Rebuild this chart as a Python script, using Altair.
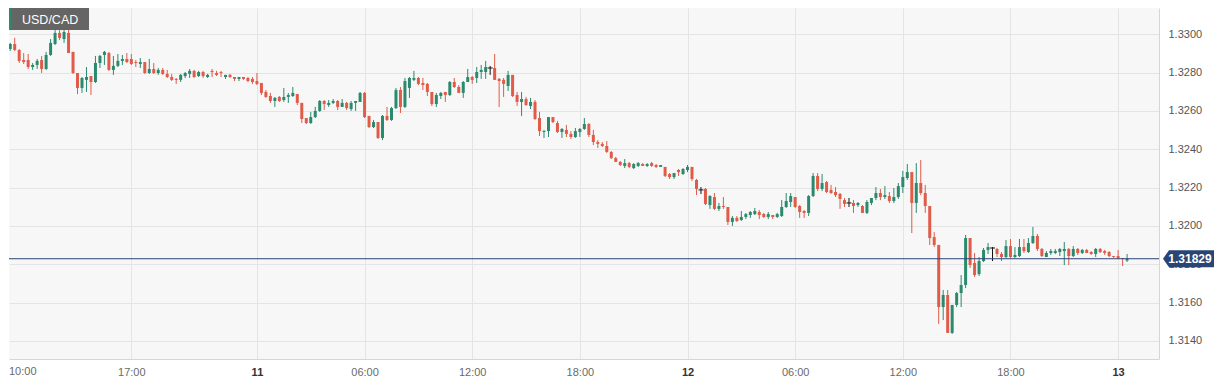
import altair as alt
import pandas as pd

SYMBOL = "USD/CAD"
LAST_PRICE = 1.31829
FIRST_HOUR = -14.0      # first candle: 10:00 on the 10th (hours relative to the 11th, 00:00)
CANDLE_HOURS = 0.25     # 15-minute candles
X_TICK_HOURS = [-7, 0, 6, 12, 18, 24, 30, 36, 42, 48]
X_TICK_LABELS = ["17:00", "11", "06:00", "12:00", "18:00", "12", "06:00", "12:00", "18:00", "13"]
FIRST_LABEL = "10:00"
Y_TICKS = [1.3140, 1.3160, 1.3180, 1.3200, 1.3220, 1.3240, 1.3260, 1.3280, 1.3300]

OPEN = [
    1.32866, 1.32923, 1.32949, 1.32918, 1.32866, 1.32866, 1.32829, 1.32840, 1.32866, 1.32819,
    1.32892, 1.32949, 1.33007, 1.32975, 1.33007, 1.32908, 1.32798, 1.32720, 1.32762, 1.32782,
    1.32751, 1.32850, 1.32892, 1.32902, 1.32814, 1.32835, 1.32861, 1.32871, 1.32871, 1.32855,
    1.32845, 1.32855, 1.32798, 1.32819, 1.32798, 1.32814, 1.32793, 1.32777, 1.32767, 1.32762,
    1.32782, 1.32793, 1.32809, 1.32782, 1.32803, 1.32777, 1.32809, 1.32798, 1.32803, 1.32777,
    1.32788, 1.32777, 1.32767, 1.32777, 1.32772, 1.32767, 1.32756, 1.32746, 1.32699, 1.32678,
    1.32652, 1.32673, 1.32657, 1.32673, 1.32678, 1.32688, 1.32642, 1.32563, 1.32537, 1.32568,
    1.32600, 1.32652, 1.32631, 1.32642, 1.32652, 1.32621, 1.32642, 1.32610, 1.32642, 1.32647,
    1.32694, 1.32574, 1.32516, 1.32542, 1.32459, 1.32574, 1.32553, 1.32615, 1.32709, 1.32621,
    1.32720, 1.32762, 1.32772, 1.32746, 1.32741, 1.32699, 1.32636, 1.32678, 1.32699, 1.32683,
    1.32751, 1.32725, 1.32694, 1.32751, 1.32777, 1.32772, 1.32803, 1.32803, 1.32824, 1.32824,
    1.32767, 1.32762, 1.32730, 1.32788, 1.32683, 1.32647, 1.32662, 1.32626, 1.32647, 1.32563,
    1.32490, 1.32495, 1.32568, 1.32537, 1.32490, 1.32501, 1.32480, 1.32464, 1.32490, 1.32506,
    1.32532, 1.32475, 1.32438, 1.32428, 1.32417, 1.32386, 1.32354, 1.32334, 1.32313, 1.32328,
    1.32302, 1.32313, 1.32323, 1.32313, 1.32328, 1.32318, 1.32308, 1.32308, 1.32271, 1.32255,
    1.32292, 1.32271, 1.32292, 1.32308, 1.32240, 1.32188, 1.32193, 1.32109, 1.32151, 1.32089,
    1.32104, 1.32099, 1.32021, 1.32042, 1.32031, 1.32047, 1.32057, 1.32062, 1.32073, 1.32062,
    1.32047, 1.32057, 1.32047, 1.32052, 1.32099, 1.32125, 1.32151, 1.32104, 1.32078, 1.32068,
    1.32156, 1.32261, 1.32193, 1.32229, 1.32188, 1.32177, 1.32167, 1.32135, 1.32120, 1.32120,
    1.32109, 1.32104, 1.32068, 1.32120, 1.32146, 1.32172, 1.32151, 1.32156, 1.32130, 1.32151,
    1.32203, 1.32250, 1.32281, 1.32120, 1.32224, 1.32172, 1.32104, 1.31942, 1.31901, 1.31577,
    1.31640, 1.31442, 1.31588, 1.31650, 1.31692, 1.31937, 1.31807, 1.31749, 1.31817, 1.31875,
    1.31885, 1.31880, 1.31854, 1.31838, 1.31895, 1.31838, 1.31843, 1.31890, 1.31864, 1.31911,
    1.31948, 1.31880, 1.31838, 1.31859, 1.31859, 1.31864, 1.31869, 1.31880, 1.31843, 1.31880,
    1.31859, 1.31875, 1.31864, 1.31854, 1.31880, 1.31869, 1.31864, 1.31843, 1.31843, 1.31833,
    1.31820,
]
HIGH = [
    1.32934, 1.32955, 1.32981, 1.32923, 1.32902, 1.32897, 1.32850, 1.32871, 1.32887, 1.32908,
    1.32975, 1.33022, 1.33022, 1.33033, 1.33038, 1.32908, 1.32798, 1.32777, 1.32829, 1.32782,
    1.32887, 1.32892, 1.32913, 1.32908, 1.32887, 1.32897, 1.32892, 1.32902, 1.32897, 1.32866,
    1.32876, 1.32855, 1.32871, 1.32850, 1.32824, 1.32824, 1.32814, 1.32793, 1.32772, 1.32793,
    1.32803, 1.32819, 1.32814, 1.32809, 1.32809, 1.32793, 1.32819, 1.32809, 1.32809, 1.32788,
    1.32793, 1.32777, 1.32777, 1.32777, 1.32777, 1.32777, 1.32798, 1.32746, 1.32709, 1.32694,
    1.32673, 1.32678, 1.32720, 1.32694, 1.32725, 1.32688, 1.32642, 1.32563, 1.32595, 1.32621,
    1.32657, 1.32657, 1.32657, 1.32662, 1.32657, 1.32662, 1.32647, 1.32652, 1.32652, 1.32699,
    1.32699, 1.32574, 1.32553, 1.32542, 1.32579, 1.32621, 1.32621, 1.32720, 1.32725, 1.32772,
    1.32777, 1.32809, 1.32777, 1.32772, 1.32746, 1.32699, 1.32694, 1.32699, 1.32699, 1.32756,
    1.32772, 1.32735, 1.32756, 1.32819, 1.32782, 1.32829, 1.32840, 1.32861, 1.32835, 1.32897,
    1.32772, 1.32772, 1.32809, 1.32788, 1.32699, 1.32699, 1.32673, 1.32668, 1.32657, 1.32595,
    1.32501, 1.32568, 1.32568, 1.32548, 1.32511, 1.32527, 1.32495, 1.32511, 1.32511, 1.32563,
    1.32537, 1.32501, 1.32448, 1.32438, 1.32443, 1.32391, 1.32360, 1.32339, 1.32349, 1.32334,
    1.32328, 1.32334, 1.32328, 1.32328, 1.32334, 1.32323, 1.32318, 1.32308, 1.32276, 1.32276,
    1.32297, 1.32302, 1.32318, 1.32308, 1.32245, 1.32203, 1.32198, 1.32161, 1.32172, 1.32120,
    1.32151, 1.32099, 1.32052, 1.32052, 1.32078, 1.32068, 1.32078, 1.32094, 1.32083, 1.32068,
    1.32073, 1.32057, 1.32068, 1.32135, 1.32172, 1.32172, 1.32151, 1.32109, 1.32083, 1.32161,
    1.32276, 1.32276, 1.32271, 1.32235, 1.32214, 1.32203, 1.32172, 1.32146, 1.32146, 1.32135,
    1.32125, 1.32109, 1.32135, 1.32146, 1.32203, 1.32193, 1.32208, 1.32177, 1.32198, 1.32224,
    1.32287, 1.32323, 1.32281, 1.32328, 1.32344, 1.32214, 1.32104, 1.31968, 1.31901, 1.31666,
    1.31666, 1.31588, 1.31656, 1.31744, 1.31953, 1.31937, 1.31859, 1.31838, 1.31885, 1.31911,
    1.31890, 1.31885, 1.31864, 1.31927, 1.31932, 1.31890, 1.31932, 1.31932, 1.31937, 1.31995,
    1.31958, 1.31885, 1.31869, 1.31880, 1.31880, 1.31885, 1.31916, 1.31885, 1.31895, 1.31885,
    1.31880, 1.31880, 1.31869, 1.31885, 1.31885, 1.31875, 1.31869, 1.31843, 1.31875, 1.31833,
    1.31854,
]
LOW = [
    1.32855, 1.32913, 1.32913, 1.32850, 1.32845, 1.32819, 1.32814, 1.32819, 1.32798, 1.32814,
    1.32887, 1.32944, 1.32970, 1.32955, 1.32902, 1.32793, 1.32688, 1.32694, 1.32699, 1.32683,
    1.32746, 1.32824, 1.32840, 1.32809, 1.32788, 1.32829, 1.32840, 1.32850, 1.32840, 1.32829,
    1.32824, 1.32793, 1.32793, 1.32793, 1.32788, 1.32788, 1.32772, 1.32756, 1.32741, 1.32751,
    1.32772, 1.32772, 1.32772, 1.32777, 1.32772, 1.32772, 1.32777, 1.32782, 1.32777, 1.32767,
    1.32772, 1.32756, 1.32756, 1.32762, 1.32751, 1.32741, 1.32735, 1.32683, 1.32668, 1.32642,
    1.32621, 1.32647, 1.32647, 1.32642, 1.32673, 1.32631, 1.32537, 1.32532, 1.32532, 1.32563,
    1.32595, 1.32605, 1.32621, 1.32636, 1.32605, 1.32621, 1.32605, 1.32600, 1.32600, 1.32647,
    1.32563, 1.32511, 1.32511, 1.32454, 1.32448, 1.32548, 1.32548, 1.32610, 1.32589, 1.32615,
    1.32668, 1.32756, 1.32735, 1.32709, 1.32678, 1.32626, 1.32621, 1.32662, 1.32647, 1.32678,
    1.32720, 1.32694, 1.32668, 1.32751, 1.32741, 1.32746, 1.32767, 1.32767, 1.32788, 1.32762,
    1.32621, 1.32673, 1.32704, 1.32673, 1.32626, 1.32574, 1.32626, 1.32610, 1.32553, 1.32469,
    1.32459, 1.32464, 1.32537, 1.32485, 1.32459, 1.32464, 1.32454, 1.32459, 1.32464, 1.32501,
    1.32464, 1.32422, 1.32407, 1.32412, 1.32381, 1.32349, 1.32334, 1.32313, 1.32302, 1.32302,
    1.32297, 1.32308, 1.32313, 1.32308, 1.32308, 1.32302, 1.32308, 1.32255, 1.32245, 1.32245,
    1.32261, 1.32266, 1.32281, 1.32235, 1.32161, 1.32167, 1.32109, 1.32089, 1.32083, 1.32078,
    1.32089, 1.32005, 1.32000, 1.32021, 1.32026, 1.32036, 1.32042, 1.32057, 1.32036, 1.32042,
    1.32036, 1.32036, 1.32042, 1.32047, 1.32094, 1.32099, 1.32094, 1.32042, 1.32042, 1.32052,
    1.32151, 1.32182, 1.32182, 1.32172, 1.32167, 1.32151, 1.32089, 1.32099, 1.32099, 1.32068,
    1.32099, 1.32068, 1.32062, 1.32109, 1.32135, 1.32135, 1.32141, 1.32120, 1.32120, 1.32141,
    1.32172, 1.32240, 1.31963, 1.32068, 1.32161, 1.32068, 1.31901, 1.31890, 1.31489, 1.31509,
    1.31442, 1.31437, 1.31577, 1.31577, 1.31676, 1.31781, 1.31734, 1.31739, 1.31812, 1.31854,
    1.31817, 1.31838, 1.31817, 1.31833, 1.31833, 1.31833, 1.31838, 1.31859, 1.31859, 1.31906,
    1.31869, 1.31838, 1.31838, 1.31849, 1.31854, 1.31843, 1.31796, 1.31796, 1.31838, 1.31849,
    1.31854, 1.31859, 1.31849, 1.31838, 1.31859, 1.31849, 1.31838, 1.31833, 1.31828, 1.31791,
    1.31812,
]
CLOSE = [
    1.32923, 1.32949, 1.32918, 1.32861, 1.32855, 1.32829, 1.32840, 1.32861, 1.32819, 1.32892,
    1.32955, 1.33007, 1.32981, 1.33012, 1.32902, 1.32798, 1.32720, 1.32772, 1.32777, 1.32751,
    1.32850, 1.32887, 1.32908, 1.32814, 1.32835, 1.32861, 1.32871, 1.32855, 1.32845, 1.32850,
    1.32855, 1.32798, 1.32819, 1.32798, 1.32814, 1.32793, 1.32777, 1.32762, 1.32762, 1.32788,
    1.32798, 1.32809, 1.32777, 1.32803, 1.32782, 1.32788, 1.32803, 1.32788, 1.32798, 1.32788,
    1.32777, 1.32767, 1.32777, 1.32767, 1.32756, 1.32751, 1.32741, 1.32694, 1.32673, 1.32652,
    1.32668, 1.32652, 1.32673, 1.32683, 1.32694, 1.32642, 1.32558, 1.32537, 1.32568, 1.32600,
    1.32652, 1.32636, 1.32642, 1.32652, 1.32621, 1.32642, 1.32615, 1.32642, 1.32652, 1.32694,
    1.32568, 1.32516, 1.32542, 1.32459, 1.32574, 1.32553, 1.32615, 1.32709, 1.32621, 1.32756,
    1.32772, 1.32772, 1.32741, 1.32735, 1.32699, 1.32636, 1.32683, 1.32694, 1.32683, 1.32751,
    1.32725, 1.32694, 1.32751, 1.32777, 1.32762, 1.32803, 1.32814, 1.32829, 1.32824, 1.32762,
    1.32756, 1.32741, 1.32788, 1.32678, 1.32647, 1.32662, 1.32631, 1.32647, 1.32558, 1.32495,
    1.32495, 1.32568, 1.32542, 1.32490, 1.32506, 1.32480, 1.32464, 1.32495, 1.32506, 1.32532,
    1.32475, 1.32438, 1.32428, 1.32417, 1.32386, 1.32354, 1.32334, 1.32318, 1.32328, 1.32308,
    1.32323, 1.32328, 1.32313, 1.32323, 1.32313, 1.32308, 1.32318, 1.32261, 1.32255, 1.32276,
    1.32281, 1.32297, 1.32308, 1.32245, 1.32193, 1.32188, 1.32115, 1.32156, 1.32089, 1.32104,
    1.32099, 1.32021, 1.32042, 1.32026, 1.32047, 1.32062, 1.32073, 1.32078, 1.32057, 1.32047,
    1.32062, 1.32047, 1.32062, 1.32099, 1.32130, 1.32156, 1.32099, 1.32073, 1.32068, 1.32156,
    1.32261, 1.32193, 1.32224, 1.32177, 1.32172, 1.32161, 1.32141, 1.32115, 1.32120, 1.32104,
    1.32120, 1.32068, 1.32125, 1.32146, 1.32172, 1.32151, 1.32161, 1.32130, 1.32151, 1.32208,
    1.32255, 1.32281, 1.32120, 1.32224, 1.32172, 1.32104, 1.31937, 1.31901, 1.31577, 1.31640,
    1.31442, 1.31588, 1.31650, 1.31692, 1.31937, 1.31796, 1.31744, 1.31817, 1.31875, 1.31890,
    1.31885, 1.31854, 1.31838, 1.31895, 1.31838, 1.31849, 1.31890, 1.31869, 1.31911, 1.31948,
    1.31880, 1.31843, 1.31859, 1.31869, 1.31869, 1.31880, 1.31880, 1.31843, 1.31880, 1.31859,
    1.31875, 1.31859, 1.31854, 1.31880, 1.31864, 1.31859, 1.31843, 1.31838, 1.31833, 1.31828,
    1.31829,
]

# ---------------------------------------------------------------- table
n = len(OPEN)
df = pd.DataFrame({
    "hour": [FIRST_HOUR + CANDLE_HOURS * i for i in range(n)],
    "open": OPEN, "high": HIGH, "low": LOW, "close": CLOSE,
})
df["dir"] = ["up" if c > o else ("down" if c < o else "doji") for o, c in zip(OPEN, CLOSE)]

W, H = 1150, 351
UP, DOWN, DOJI = "#2b8a6e", "#e05b48", "#111111"
NAVY = "#2a4573"
GRID = "#e4e4e4"
BORDER = "#cfd6e6"
FONT = "Liberation Sans"

x_scale = alt.Scale(domain=[-13.54, 50.0], nice=False, zero=False)
y_scale = alt.Scale(domain=[1.31306, 1.33137], nice=False, zero=False)
color_scale = alt.Scale(domain=["up", "down", "doji"], range=[UP, DOWN, DOJI])

label_expr = " : ".join(
    f"datum.value == {h} ? '{l}'" for h, l in zip(X_TICK_HOURS, X_TICK_LABELS)
) + " : ''"

x_axis = alt.Axis(
    values=X_TICK_HOURS, labelExpr=label_expr, title=None, grid=True, gridColor=GRID,
    ticks=False, domain=True, domainColor=BORDER, labelFontSize=11, labelPadding=7,
    labelFont=FONT, labelOverlap=False, zindex=0,
    labelColor={"condition": {"test": "datum.value % 24 == 0", "value": "#333333"}, "value": "#6a6a6a"},
    labelFontWeight={"condition": {"test": "datum.value % 24 == 0", "value": "bold"}, "value": "normal"},
)
y_axis = alt.Axis(
    orient="right", values=Y_TICKS, format=".4f", title=None, grid=True, gridColor=GRID,
    ticks=False, domain=True, domainColor=BORDER, labelColor="#555555", labelFontSize=11,
    labelPadding=9, labelFont=FONT, labelOverlap=False, zindex=0,
)

color = alt.Color("dir:N", scale=color_scale, legend=None)
base = alt.Chart(df)

wicks = base.mark_rule(strokeWidth=1, clip=True).encode(
    x=alt.X("hour:Q", scale=x_scale, axis=x_axis),
    y=alt.Y("low:Q", scale=y_scale, axis=y_axis),
    y2="high:Q",
    color=color,
)
bodies = base.transform_filter("datum.dir != 'doji'").mark_bar(size=3, clip=True).encode(
    x=alt.X("hour:Q", scale=x_scale, title=None),
    y=alt.Y("open:Q", scale=y_scale, title=None),
    y2="close:Q",
    color=color,
)
doji = base.transform_filter("datum.dir == 'doji'").mark_tick(
    orient="horizontal", size=5, thickness=1, opacity=1, clip=True
).encode(
    x=alt.X("hour:Q", scale=x_scale, title=None),
    y=alt.Y("open:Q", scale=y_scale, title=None),
    color=color,
)

price_df = pd.DataFrame({"price": [LAST_PRICE], "label": [f"{LAST_PRICE:.5f}"]})
price_line = alt.Chart(price_df).mark_rule(color=NAVY, strokeWidth=1).encode(
    y=alt.Y("price:Q", scale=y_scale, title=None)
)
BADGE = "M -1 0 L -0.765 -0.333 L 1 -0.333 L 1 0.333 L -0.765 0.333 Z"
badge = alt.Chart(price_df).mark_point(
    shape=BADGE, size=2601, filled=True, color=NAVY, opacity=1, strokeWidth=0
).encode(x=alt.value(1179.5), y=alt.Y("price:Q", scale=y_scale, title=None))
badge_text = alt.Chart(price_df).mark_text(
    color="white", fontWeight="bold", fontSize=12, font=FONT, align="center", baseline="middle"
).encode(x=alt.value(1181), y=alt.Y("price:Q", scale=y_scale, title=None), text="label:N")

head_df = pd.DataFrame({"label": [SYMBOL]})
head_box = alt.Chart(head_df).mark_rect(color="#656565").encode(
    x=alt.value(0), x2=alt.value(80), y=alt.value(0), y2=alt.value(22)
)
head_stripe = alt.Chart(head_df).mark_rect(color=UP).encode(
    x=alt.value(0), x2=alt.value(2.5), y=alt.value(0), y2=alt.value(22)
)
head_text = alt.Chart(head_df).mark_text(
    color="white", fontSize=12.5, font=FONT, align="left", baseline="middle"
).encode(x=alt.value(13), y=alt.value(11.5), text="label:N")

first_df = pd.DataFrame({"label": [FIRST_LABEL]})
first_label = alt.Chart(first_df).mark_text(
    color="#6a6a6a", fontSize=11, font=FONT, align="left", baseline="middle"
).encode(x=alt.value(0), y=alt.value(H + 13), text="label:N")

chart = alt.layer(
    wicks, bodies, doji, price_line, badge, badge_text,
    head_box, head_stripe, head_text, first_label,
).properties(
    width=W, height=H, padding={"left": 0, "top": 0, "right": 0, "bottom": 0}, background="white"
).configure_view(fill="#f7f7f7", stroke=None)

chart.save("out.html", embed_options={"renderer": "svg", "actions": False})
